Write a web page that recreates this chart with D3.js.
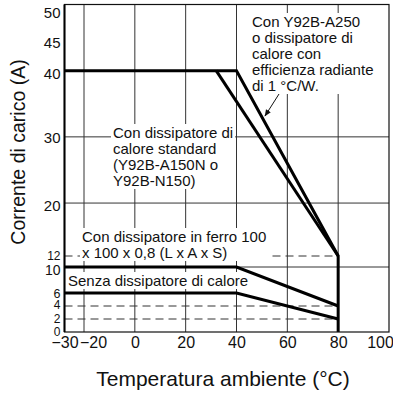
<!DOCTYPE html>
<html><head><meta charset="utf-8">
<script src="https://cdn.jsdelivr.net/npm/d3@7"></script>
<style>
html,body{margin:0;padding:0;background:#fff;}
svg{display:block;font-family:"Liberation Sans",Arial,Helvetica,sans-serif;}
</style></head>
<body>
<svg id="chart" width="393" height="396"></svg>
<script>
// ---- data ----
const xTicks = [-30, -20, 0, 20, 40, 60, 80, 100];
const yTicks = [0, 2, 4, 6, 10, 12, 20, 30, 40, 45, 50];
const xGrid = [-20, 0, 20, 40, 60, 80];
const yGrid = [10, 20, 30];
const a250Temp = [-30, 40, 80, 80];
const a250Curr = [40, 40, 12, 0];
const stdTemp = [32, 80];
const stdCurr = [40, 12];
const ferroTemp = [-30, 40, 80];
const ferroCurr = [10, 10, 4];
const senzaTemp = [-30, 40, 80];
const senzaCurr = [6, 6, 2];
const dashLevels = [12, 4, 2];
const dashEnd = 80;
const labelA250 = ["Con Y92B-A250", "o dissipatore di", "calore con", "efficienza radiante", "di 1 °C/W."];
const labelStd = ["Con dissipatore di", "calore standard", "(Y92B-A150N o", "Y92B-N150)"];
const labelFerro = ["Con dissipatore in ferro 100", "x 100 x 0,8 (L x A x S)"];
const labelSenza = ["Senza dissipatore di calore"];
const xTitle = "Temperatura ambiente (°C)";
const yTitle = "Corrente di carico (A)";

// ---- scales ----
const x = d3.scaleLinear().domain([-30, -20, 100]).range([64.5, 84, 389]);
const y = d3.scaleLinear().domain([0, 10, 12, 50]).range([332, 267, 256, 4.5]);
const svg = d3.select("#chart");

// gridlines
svg.append("g").selectAll("line").data(xGrid).join("line")
  .attr("x1", d => x(d)).attr("x2", d => x(d))
  .attr("y1", y(50)).attr("y2", y(0))
  .attr("stroke", "#333").attr("stroke-width", 1);
svg.append("g").selectAll("line").data(yGrid).join("line")
  .attr("x1", x(-30)).attr("x2", x(100))
  .attr("y1", d => y(d)).attr("y2", d => y(d))
  .attr("stroke", "#333").attr("stroke-width", 1);

// dashed reference lines
svg.append("g").selectAll("line").data(dashLevels).join("line")
  .attr("x1", x(-30)).attr("x2", x(dashEnd))
  .attr("y1", d => y(d)).attr("y2", d => y(d))
  .attr("stroke", "#333").attr("stroke-width", 1)
  .attr("stroke-dasharray", "8,5");

// text blocks with white background
function block(lines, x0, y0, lh) {
  const g = svg.append("g");
  const rect = g.append("rect").attr("fill", "#fff");
  const t = g.append("text").attr("font-size", 15).attr("fill", "#111");
  lines.forEach((s, i) => t.append("tspan").attr("x", x0).attr("y", y0 + i * lh).text(s));
  const b = t.node().getBBox();
  rect.attr("x", b.x - 2).attr("y", b.y).attr("width", b.width + 4).attr("height", b.height);
  return g;
}
block(labelA250, 252, 27, 16);
block(labelStd, 113, 138, 16);
block(labelFerro, 82, 242, 16);
block(labelSenza, 68, 286, 16);

// arrow leader
svg.append("defs").append("marker").attr("id", "arr")
  .attr("viewBox", "0 0 10 10").attr("refX", 9).attr("refY", 5)
  .attr("markerWidth", 7).attr("markerHeight", 7).attr("orient", "auto")
  .append("path").attr("d", "M0,1 L10,5 L0,9 Z").attr("fill", "#111");
svg.append("line").attr("x1", 279).attr("y1", 94).attr("x2", 265).attr("y2", 116)
  .attr("stroke", "#111").attr("stroke-width", 1).attr("marker-end", "url(#arr)");

// thick curves
const line = d3.line().x(d => x(d[0])).y(d => y(d[1]));
const series = [
  [a250Temp, a250Curr],
  [stdTemp, stdCurr],
  [ferroTemp, ferroCurr],
  [senzaTemp, senzaCurr]
];
svg.append("g").selectAll("path").data(series).join("path")
  .attr("d", s => line(s[0].map((t, i) => [t, s[1][i]])))
  .attr("fill", "none").attr("stroke", "#000").attr("stroke-width", 3)
  .attr("stroke-linejoin", "miter");

// frame
svg.append("rect").attr("x", x(-30)).attr("y", y(50))
  .attr("width", x(100) - x(-30)).attr("height", y(0) - y(50))
  .attr("fill", "none").attr("stroke", "#111").attr("stroke-width", 1.2);
svg.append("line").attr("x1", x(-30)).attr("x2", x(-30)).attr("y1", y(50)).attr("y2", y(0))
  .attr("stroke", "#000").attr("stroke-width", 2);

// axes labels
const fmt = d => d < 0 ? "\u2212" + Math.abs(d) : String(d);
const xa = svg.append("g").attr("transform", `translate(0,${y(0)})`)
  .call(d3.axisBottom(x).tickValues(xTicks).tickSize(0).tickPadding(5).tickFormat(fmt));
xa.select(".domain").remove();
xa.selectAll("text").attr("font-size", 16).attr("fill", "#111")
  .attr("font-family", "Liberation Sans,Arial,sans-serif")
  .attr("dx", d => d === -20 ? 9 : d === 100 ? -9 : 0);

const yLabelShift = {50: 8, 45: 5, 40: 3, 30: 1, 20: 3, 12: 0, 10: 3, 6: 0, 4: -1, 2: 0, 0: 0};
const yLabelSize = {50: 15, 45: 15, 40: 15, 30: 15, 20: 15, 12: 12, 10: 14, 6: 12.5, 4: 12, 2: 12, 0: 12};
const ya = svg.append("g").attr("transform", `translate(${x(-30)},0)`)
  .call(d3.axisLeft(y).tickValues(yTicks).tickSize(0).tickPadding(4).tickFormat(fmt));
ya.select(".domain").remove();
ya.selectAll("text").attr("font-size", d => yLabelSize[d]).attr("fill", "#111")
  .attr("font-family", "Liberation Sans,Arial,sans-serif")
  .attr("transform", d => `translate(0,${yLabelShift[d]})`);

svg.append("text").attr("x", 223).attr("y", 386).attr("text-anchor", "middle")
  .attr("font-size", 21).attr("fill", "#111").text(xTitle);
svg.append("text").attr("transform", "translate(25,152) rotate(-90)")
  .attr("text-anchor", "middle").attr("font-size", 19.5).attr("fill", "#111").text(yTitle);
</script>
</body></html>
